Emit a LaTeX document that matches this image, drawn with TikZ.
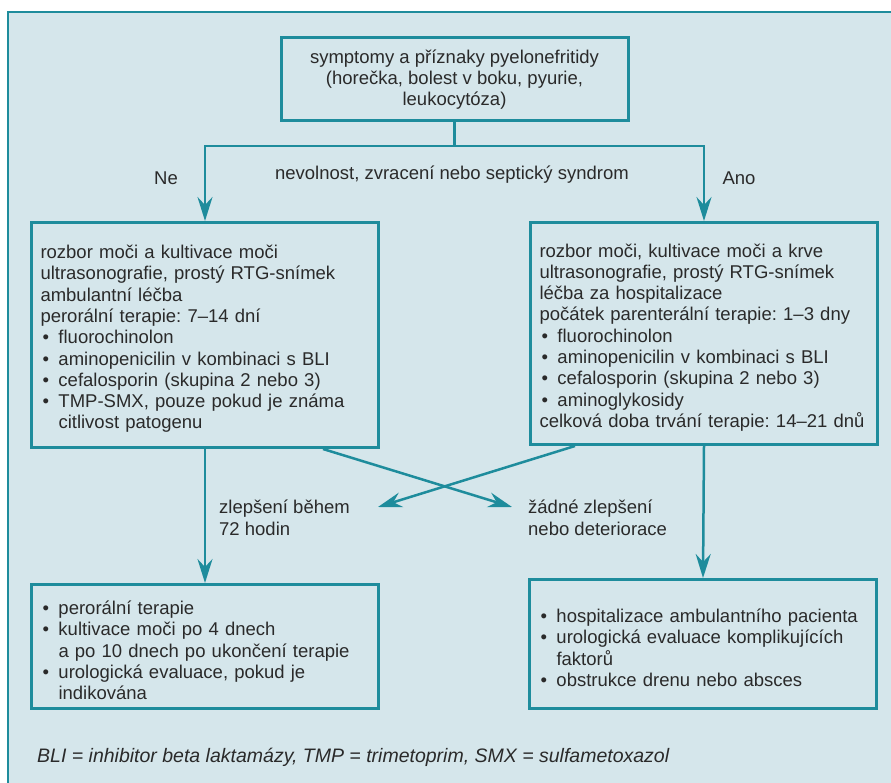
\documentclass[tikz,border=0pt]{standalone}
\usepackage{fontspec}
\setmainfont{Liberation Sans}
\usepackage{xcolor}
\usepackage{tikz}
\usetikzlibrary{arrows.meta,positioning,calc}

\definecolor{bgblue}{HTML}{D5E6EB}
\definecolor{flowteal}{HTML}{1E8C9C}
\definecolor{inkgray}{HTML}{2A2A2A}

\newcommand{\boxfont}{\fontsize{18.5pt}{21.3pt}\selectfont\frenchspacing}
\newcommand{\bitem}[1]{\par\hangindent=18pt\hangafter=1\noindent\makebox[18pt][l]{\hspace{2pt}\textbullet}#1\par}
\newcommand{\bline}[1]{\par\noindent #1\par}
\newcommand{\brk}{\hfil\break}

\begin{document}
\begin{tikzpicture}[
    x=1pt, y=-1pt,
    >={Stealth[length=24pt,width=15pt,inset=8pt]},
    link/.style={draw=flowteal, line width=2.5pt},
    arrow/.style={link, ->},
    box/.style={draw=flowteal, line width=3pt, fill=bgblue, text=inkgray,
        font=\boxfont, inner xsep=9pt, inner ysep=6pt, align=left,
        text width=329pt, anchor=north west},
    lbl/.style={text=inkgray, font=\boxfont, inner sep=0pt}
]
    \useasboundingbox (0,0) rectangle (891,783);
    % Panel background, open at right and bottom
    \fill[bgblue] (8,12) rectangle (891,783);
    \draw[flowteal, line width=2pt] (8,783) -- (8,12) -- (891,12);

    % Boxes
    \node[box, anchor=center, align=center, text width=, minimum width=347pt,
        minimum height=83pt] (symptoms) at (454.5,79.5)
        {symptomy a příznaky pyelonefritidy\\(horečka, bolest v boku, pyurie,\\leukocytóza)};
    \node[box, minimum height=225pt] (outpatient) at (30,221) {%
        \bline{rozbor moči a kultivace moči}
        \bline{ultrasonografie, prostý RTG-snímek}
        \bline{ambulantní léčba}
        \bline{perorální terapie: 7–14 dní}
        \bitem{fluorochinolon}
        \bitem{aminopenicilin v kombinaci s BLI}
        \bitem{cefalosporin (skupina 2 nebo 3)}
        \bitem{TMP-SMX, pouze pokud je známa\brk citlivost patogenu}};
    \node[box, minimum height=222pt] (inpatient) at (529,221) {%
        \bline{rozbor moči, kultivace moči a krve}
        \bline{ultrasonografie, prostý RTG-snímek}
        \bline{léčba za hospitalizace}
        \bline{počátek parenterální terapie: 1–3 dny}
        \bitem{fluorochinolon}
        \bitem{aminopenicilin v kombinaci s BLI}
        \bitem{cefalosporin (skupina 2 nebo 3)}
        \bitem{aminoglykosidy}
        \bline{celková doba trvání terapie: 14–21 dnů}};
    \node[box, minimum height=124pt] (oralcare) at (30,583) {%
        \bitem{perorální terapie}
        \bitem{kultivace moči po 4 dnech\brk a po 10 dnech po ukončení terapie}
        \bitem{urologická evaluace, pokud je\brk indikována}};
    \node[box, minimum height=129pt] (hospcare) at (528,578) {%
        \bitem{hospitalizace ambulantního pacienta}
        \bitem{urologická evaluace komplikujících\brk faktorů}
        \bitem{obstrukce drenu nebo absces}};

    % Labels
    \node[lbl, anchor=base] (no) at (166,185) {Ne};
    \node[lbl, anchor=base] (yes) at (739,185) {Ano};
    \node[lbl, anchor=base] (question) at (452,180) {nevolnost, zvracení nebo septický syndrom};
    \node[lbl, anchor=north west, align=left] (better) at (219,500) {zlepšení během\\72 hodin};
    \node[lbl, anchor=north west, align=left] (worse) at (528,500) {žádné zlepšení\\nebo deteriorace};
    \node[lbl, anchor=base west, font=\fontsize{19.5pt}{22pt}\selectfont\itshape\frenchspacing] (legend) at (37,762)
        {BLI = inhibitor beta laktamázy, TMP = trimetoprim, SMX = sulfametoxazol};

    % Branching
    \coordinate (fork) at (454.5,146);
    \draw[link] (symptoms.south) -- (fork);
    \draw[arrow] (fork) -| (outpatient.north);
    \draw[arrow] (fork) -| (inpatient.north);

    % Outcomes
    \draw[arrow] (outpatient.south) -- (oralcare.north);
    \draw[arrow] (inpatient.south) -- (hospcare.north);
    \coordinate (outstart) at ($(outpatient.south east)+(-57,0)$);
    \coordinate (instart) at ($(inpatient.south west)+(46,0)$);
    \coordinate (toworse) at (512,507);
    \coordinate (tobetter) at (378,507);
    \draw[arrow] (outstart) -- (toworse);
    \draw[arrow] (instart) -- (tobetter);
\end{tikzpicture}
\end{document}
